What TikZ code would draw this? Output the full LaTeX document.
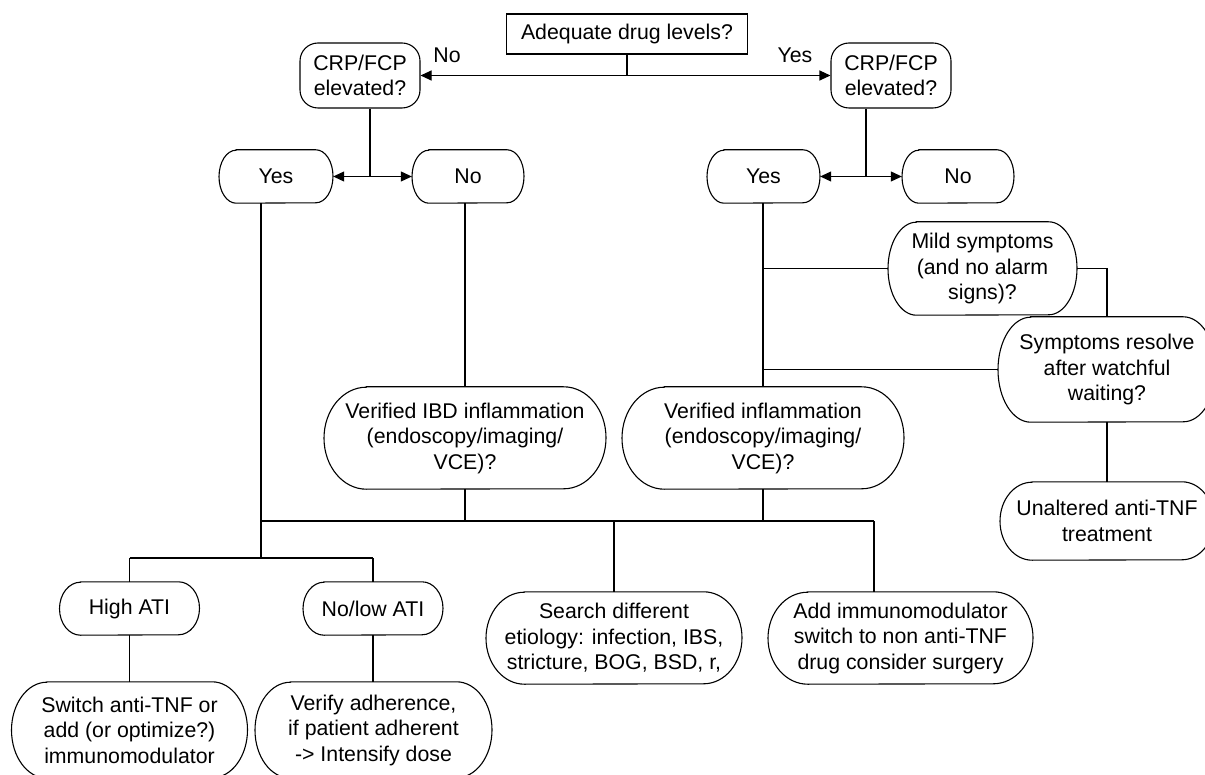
\documentclass[tikz,border=0pt]{standalone}
\usepackage{fontspec}
\setmainfont{Liberation Sans}
\usetikzlibrary{arrows.meta,calc}
\tikzset{
  ln/.style={line width=1.1pt, black},
  arr/.style={ln, -{Triangle[length=11pt,width=10pt]}},
  base/.style={font=\fontsize{21.3}{25.5}\selectfont, align=center, inner sep=0pt},
  rectbox/.style={base, draw, ln},
  roundbox/.style={base, draw, ln, rounded corners=18pt},
  lbl/.style={base}
}
% terminator node: name, x, y, width, height, text
\newcommand\tnode[6]{%
  \node[base, minimum width=#4pt, minimum height=#5pt] (#1) at (#2,-#3) {#6};
  \draw[ln] ($(#1.north)+({-0.35*#4},0)$) -- ($(#1.north)+({0.35*#4},0)$)
    arc[start angle=90, end angle=-90, x radius={0.15*#4*1pt}, y radius={0.5*#5*1pt}]
    -- ($(#1.south)+({-0.35*#4},0)$)
    arc[start angle=270, end angle=90, x radius={0.15*#4*1pt}, y radius={0.5*#5*1pt}]
    -- cycle;}
\begin{document}
\begin{tikzpicture}[x=1pt,y=1pt]
\useasboundingbox (0,0) rectangle (1205,-775);

\node[rectbox, minimum width=241pt, minimum height=40pt] (top) at (627,-34) {Adequate drug levels?};
\node[roundbox, minimum width=120pt, minimum height=65pt] (crpL) at (360,-75.5) {CRP/FCP\\elevated?};
\node[roundbox, minimum width=120pt, minimum height=65pt] (crpR) at (891,-75.5) {CRP/FCP\\elevated?};
\coordinate (j0) at (top.south |- crpL.east);
\draw[ln] (top.south) -- (j0);
\draw[arr] (j0) -- (crpL.east);
\draw[arr] (j0) -- (crpR.west);
\node[lbl] (lno) at (447,-55) {No};
\node[lbl] (lyes) at (795,-55) {Yes};

\tnode{yesL}{276}{176.5}{114}{53}{Yes}
\tnode{noL}{468}{176.5}{112}{53}{No}
\tnode{yesR}{763.5}{176.5}{113}{53}{Yes}
\tnode{noR}{958}{176.5}{112}{53}{No}
\coordinate (jL) at (370,-176.5);
\coordinate (jR) at (866,-176.5);
\draw[ln] (jL |- crpL.south) -- (jL);
\draw[arr] (jL) -- (yesL.east);
\draw[arr] (jL) -- (noL.west);
\draw[ln] (jR |- crpR.south) -- (jR);
\draw[arr] (jR) -- (yesR.east);
\draw[arr] (jR) -- (noR.west);

\tnode{ibd}{465}{438}{282}{102}{Verified IBD inflammation\\(endoscopy/imaging/\\VCE)?}
\tnode{infl}{763}{438}{282}{102}{Verified inflammation\\(endoscopy/imaging/\\VCE)?}
\tnode{mild}{982.5}{268.5}{189}{93}{Mild symptoms\\(and no alarm\\signs)?}
\tnode{resolve}{1107}{369.5}{218}{105}{Symptoms resolve\\after watchful\\waiting?}
\tnode{unalt}{1107}{521}{214}{78}{Unaltered anti-TNF\\treatment}
\tnode{high}{129.5}{608.5}{140}{53}{High ATI}
\tnode{nolow}{373}{608.5}{140}{53}{No/low ATI}
\tnode{switch}{129.5}{730}{236}{96}{Switch anti-TNF or\\add (or optimize?)\\immunomodulator}
\tnode{verify}{373.5}{730}{237}{96}{Verify adherence,\\if patient adherent\\-> Intensify dose}
\tnode{search}{614}{638}{256}{92}{Search different\\etiology: infection, IBS,\\stricture, BOG, BSD, r,}
\tnode{add}{900.5}{638}{265}{92}{Add immunomodulator\\switch to non anti-TNF\\drug consider surgery}

% left branch
\coordinate (bY) at (261,-558);
\coordinate (b1L) at (261,-521);
\coordinate (b1R) at (874,-521);
\draw[ln] (bY |- yesL.south) -- (bY);
\draw[ln] (b1L) -- (b1R);
\draw[ln] (ibd.north |- noL.south) -- (ibd.north);
\draw[ln] (ibd.south) -- (ibd.south |- b1L);
\draw[ln] (infl.north |- yesR.south) -- (infl.north);
\draw[ln] (infl.south) -- (infl.south |- b1L);
\draw[ln] (search.north |- b1L) -- (search.north);
\draw[ln] (b1R) -- (b1R |- add.north);
\draw[ln] (high.north |- bY) -- (nolow.north |- bY);
\draw[ln] (high.north |- bY) -- (high.north);
\draw[ln] (nolow.north |- bY) -- (nolow.north);
\draw[ln] (high.south) -- (switch.north);
\draw[ln] (nolow.south) -- (nolow.south |- verify.north);

% right branch
\draw[ln] (infl.north |- mild.west) -- (mild.west);
\draw[ln] (mild.east) -| (resolve.north);
\draw[ln] (infl.north |- resolve.west) -- (resolve.west);
\draw[ln] (resolve.south) -- (unalt.north);
\end{tikzpicture}
\end{document}
